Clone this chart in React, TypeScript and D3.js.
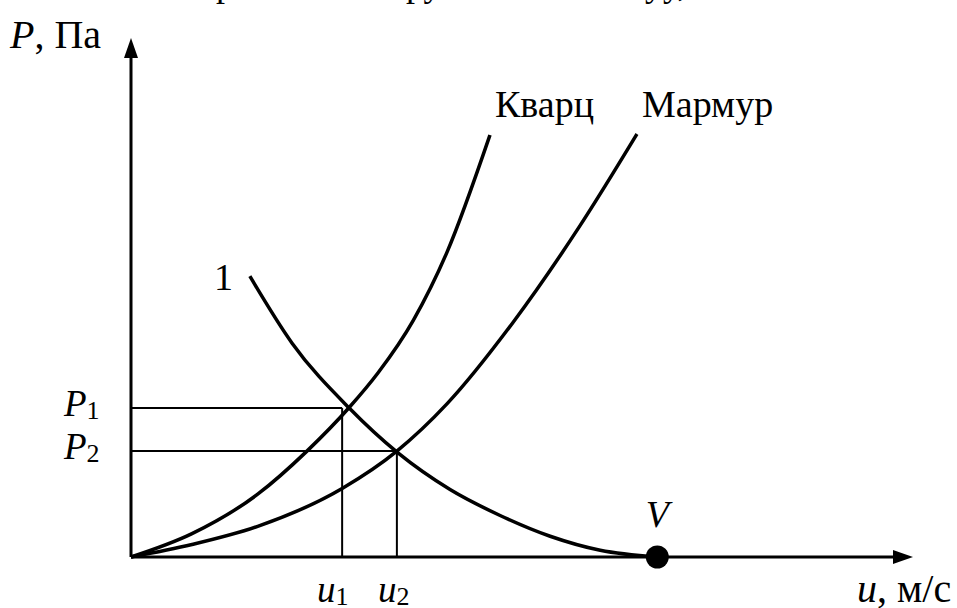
import React from "react";
import * as d3 from "d3";

// abstract units: u along x, P along y
const kvarcU = [0, 0.78, 1.62, 2.25, 2.79, 3.16, 3.61, 4.04, 4.59];
const kvarcP = [0, 0.45, 1.21, 2.04, 2.88, 3.55, 4.56, 5.87, 8.13];

const marmurU = [0, 0.78, 1.62, 2.7, 3.4, 4.04, 4.88, 5.74, 6.47];
const marmurP = [0, 0.24, 0.59, 1.32, 2.04, 2.95, 4.51, 6.38, 8.15];

const oneU = [1.52, 2.06, 2.79, 3.41, 4.08, 4.72, 5.36, 6.0, 6.73];
const oneP = [5.41, 4.12, 2.87, 2.01, 1.3, 0.8, 0.4, 0.13, 0];

// working points
const pointU = [2.7, 3.4];
const pointP = [2.87, 2.04];
const vU = 6.73;

const serif = "Liberation Serif";

const App = () => {
  const width = 957;
  const height = 608;
  const x = d3.scaleLinear().domain([0, 10]).range([131, 913]);
  const y = d3.scaleLinear().domain([0, 10]).range([557, 38]);

  const line = d3
    .line<[number, number]>()
    .x((d) => x(d[0]))
    .y((d) => y(d[1]))
    .curve(d3.curveMonotoneX);

  const zip = (a: number[], b: number[]) =>
    a.map((v, i) => [v, b[i]] as [number, number]);

  const x0 = x(0);
  const y0 = y(0);

  return (
    <svg
      width={width}
      height={height}
      style={{ position: "absolute", left: 0, top: 0, background: "#fff", fontFamily: serif }}
    >
      {/* cut-off line of text above the figure */}
      <text y={-4} fontSize={36} fill="#000">
        <tspan x={216}>р</tspan>
        <tspan x={406}>ру</tspan>
        <tspan x={645}>уу,</tspan>
      </text>

      {/* guide lines */}
      {pointU.map((u, i) => (
        <g key={i} stroke="#000" strokeWidth={2}>
          <line x1={x0} x2={x(u)} y1={y(pointP[i])} y2={y(pointP[i])} />
          <line x1={x(u)} x2={x(u)} y1={y(pointP[i])} y2={y0} />
        </g>
      ))}

      {/* curves */}
      <g fill="none" stroke="#000" strokeWidth={3.5}>
        <path d={line(zip(kvarcU, kvarcP)) || ""} />
        <path d={line(zip(marmurU, marmurP)) || ""} />
        <path d={line(zip(oneU, oneP)) || ""} />
      </g>

      {/* axes */}
      <line x1={x0} y1={y0} x2={x(10) - 14} y2={y0} stroke="#000" strokeWidth={3} />
      <line x1={x0} y1={y0} x2={x0} y2={y(10) + 14} stroke="#000" strokeWidth={3} />
      <path d={`M${x(10)},${y0} l-20,-7 l0,14 z`} fill="#000" />
      <path d={`M${x0},${y(10)} l-7,20 l14,0 z`} fill="#000" />

      <circle cx={x(vU)} cy={y0} r={11.5} fill="#000" />

      {/* labels */}
      <text x={10} y={48} fontSize={40}>
        <tspan fontStyle="italic">P</tspan>, Па
      </text>
      <text x={857} y={602} fontSize={40}>
        <tspan fontStyle="italic">u</tspan>, м/с
      </text>
      <text x={x(vU)} y={527} fontSize={38} fontStyle="italic" textAnchor="middle">
        V
      </text>
      <text x={495} y={117} fontSize={38}>Кварц</text>
      <text x={642} y={117} fontSize={38}>Мармур</text>
      <text x={214} y={290} fontSize={38}>1</text>

      <text x={64} y={416} fontSize={37}>
        <tspan fontStyle="italic">P</tspan>
        <tspan fontSize={26} dy={3}>1</tspan>
      </text>
      <text x={64} y={459} fontSize={37}>
        <tspan fontStyle="italic">P</tspan>
        <tspan fontSize={26} dy={3}>2</tspan>
      </text>
      <text x={317} y={602} fontSize={37}>
        <tspan fontStyle="italic">u</tspan>
        <tspan fontSize={26} dy={3}>1</tspan>
      </text>
      <text x={378} y={602} fontSize={37}>
        <tspan fontStyle="italic">u</tspan>
        <tspan fontSize={26} dy={3}>2</tspan>
      </text>
    </svg>
  );
};

export default App;
